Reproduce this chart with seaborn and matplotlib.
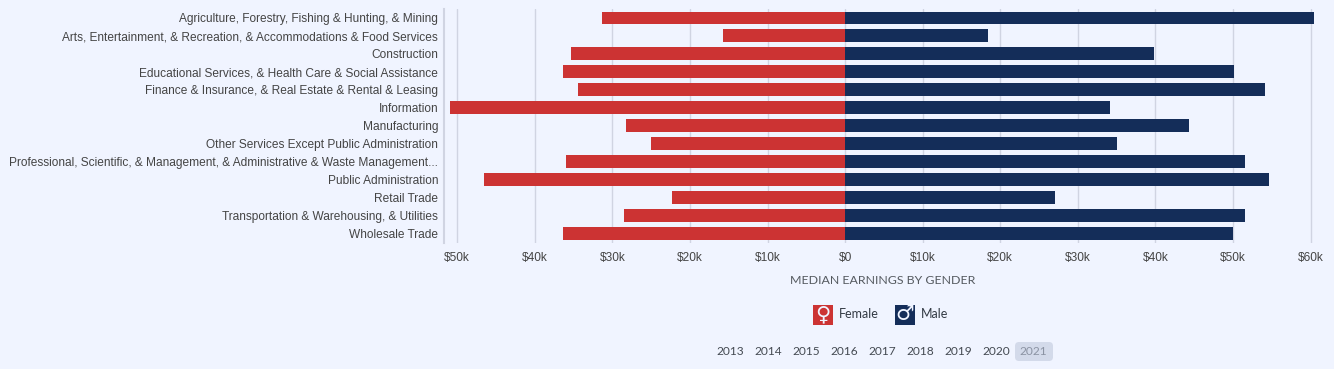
import matplotlib
matplotlib.use("Agg")
import matplotlib.pyplot as plt
from matplotlib.patches import FancyBboxPatch, Rectangle
from matplotlib.transforms import IdentityTransform
import pandas as pd
import seaborn as sns

industries = [
    "Agriculture, Forestry, Fishing & Hunting, & Mining",
    "Arts, Entertainment, & Recreation, & Accommodations & Food Services",
    "Construction",
    "Educational Services, & Health Care & Social Assistance",
    "Finance & Insurance, & Real Estate & Rental & Leasing",
    "Information",
    "Manufacturing",
    "Other Services Except Public Administration",
    "Professional, Scientific, & Management, & Administrative & Waste Management...",
    "Public Administration",
    "Retail Trade",
    "Transportation & Warehousing, & Utilities",
    "Wholesale Trade",
]
female_k = [31.3, 15.7, 35.3, 36.4, 34.4, 50.9, 28.2, 25.0, 36.0, 46.6, 22.3, 28.5, 36.3]
male_k = [60.5, 18.4, 39.8, 50.1, 54.1, 34.1, 44.3, 35.0, 51.5, 54.7, 27.0, 51.6, 50.0]
x_ticks = [-50, -40, -30, -20, -10, 0, 10, 20, 30, 40, 50, 60]
x_tick_labels = ["$50k", "$40k", "$30k", "$20k", "$10k", "$0", "$10k", "$20k",
                 "$30k", "$40k", "$50k", "$60k"]
years = ["2013", "2014", "2015", "2016", "2017", "2018", "2019", "2020", "2021"]

BG = "#f0f4ff"
RED = "#cc3333"
NAVY = "#142d59"
GRID = "#d0d4e2"
W, H = 1334, 369

sns.set_theme(style="whitegrid")
plt.rcParams["font.family"] = ["Liberation Sans", "DejaVu Sans"]

df = pd.concat([
    pd.DataFrame({"industry": industries, "value": [-v for v in female_k], "gender": "Female"}),
    pd.DataFrame({"industry": industries, "value": male_k, "gender": "Male"}),
])

fig = plt.figure(figsize=(W / 100, H / 100), dpi=100, facecolor=BG)
ax = fig.add_axes([444 / W, 1 - 242.5 / H, 872 / W, 233.5 / H], facecolor=BG)

sns.barplot(data=df, y="industry", x="value", hue="gender", dodge=False, width=0.72, linewidth=0,
            palette={"Female": RED, "Male": NAVY}, saturation=1, legend=False, ax=ax, zorder=3)

ax.set_xlim(-51.7, 60.7)
ax.set_ylim(12.5, -0.5)
ax.set_xticks(x_ticks)
ax.set_xticklabels(x_tick_labels, fontsize=8.6, color="#444444")
ax.tick_params(axis="x", length=3, width=1, color=GRID, pad=4)
ax.tick_params(axis="y", length=0, labelsize=8.6, labelcolor="#444444", pad=4.2)
ax.set_xlabel("")
ax.set_ylabel("")
ax.grid(axis="x", color=GRID, linewidth=1)
ax.grid(axis="y", visible=False)
sns.despine(ax=ax, top=True, right=True, bottom=True)
ax.spines["left"].set_color(GRID)
ax.spines["left"].set_linewidth(1.5)


def fx(px):
    return px / W


def fy(py):
    return 1 - py / H


fig.text(fx(882.5), fy(281), "MEDIAN EARNINGS BY GENDER", family="Lato", fontsize=8.9,
         color="#555a60", ha="center", va="center")

# legend drawn by hand so the swatches can hold the gender symbols
for name, symbol, colour, left in [("Female", "\u2640", RED, 813), ("Male", "\u2642", NAVY, 895)]:
    fig.add_artist(Rectangle((fx(left), fy(325)), 20 / W, 20 / H, transform=fig.transFigure,
                             facecolor=colour, edgecolor="none"))
    fig.text(fx(left + 10), fy(314.5), symbol, family="DejaVu Sans", fontsize=15, color=BG,
             ha="center", va="center")
    fig.text(fx(left + 25.5), fy(314.5), name, family="Lato", fontsize=9, color="#333a44",
             ha="left", va="center")

# year selector, 2021 is the active one
fig.add_artist(FancyBboxPatch((1015, H - 361), 38, 19, transform=IdentityTransform(),
                              boxstyle="round,pad=0,rounding_size=4",
                              facecolor="#d3daea", edgecolor="none"))
for i, year in enumerate(years):
    fig.text(fx(730.5 + i * 37.9), fy(351.5), year, family="Lato", fontsize=8.6,
             color="#8b93a3" if year == "2021" else "#444a52", ha="center", va="center")

fig.savefig("out.png", dpi=100, facecolor=BG)
